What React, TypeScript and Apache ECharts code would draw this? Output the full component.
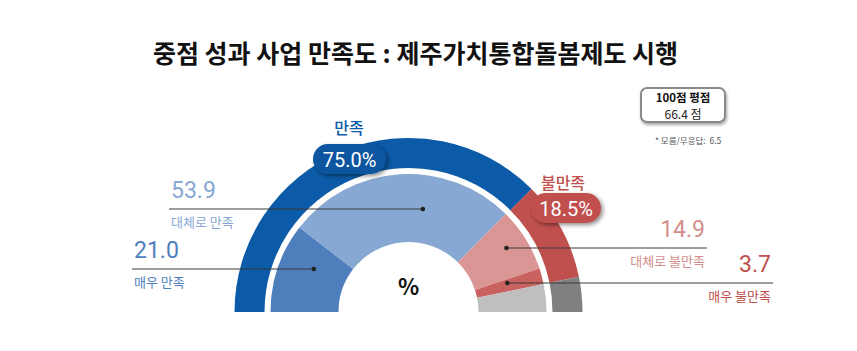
import React, { useEffect, useRef } from "react";
import * as echarts from "echarts";

const titleText = "중점 성과 사업 만족도 : 제주가치통합돌봄제도 시행";

const innerNames = ["매우 만족", "대체로 만족", "대체로 불만족", "매우 불만족", "모름/무응답"];
const innerValues = [21.0, 53.9, 14.9, 3.7, 6.5];
const innerColors = ["#4e7fbc", "#87a8d3", "#da9694", "#c9625f", "#bfbfbf"];
const innerTextColors = ["#4e7fbc", "#87a8d3", "#d38e8c", "#c0504d", "#999999"];

const outerNames = ["만족", "불만족", "모름/무응답"];
const outerValues = [75.0, 18.5, 6.5];
const outerColors = ["#0b5ba8", "#c0504d", "#808080"];

const scoreTitle = "100점 평점";
const scoreText = "66.4 점";
const noteText = "* 모름/무응답:  6.5";
const centerText = "%";

const CX = 408.5;
const CY = 312;

// label layout for the four inner-ring leaders
const leaderLayout = [
  { idx: 0, align: "left", endX: 132, lineY: 269, r: 104, dir: -1, textX: 134 },
  { idx: 1, align: "left", endX: 169, lineY: 209, r: 104, dir: 1, textX: 171 },
  { idx: 2, align: "right", endX: 707, lineY: 248, r: 117, dir: 1, textX: 705 },
  { idx: 3, align: "right", endX: 773, lineY: 283, r: 103, dir: 1, textX: 771 },
];

const KR = '"Noto Sans CJK KR", "Noto Sans", sans-serif';
const NUM = 'Roboto, "Noto Sans", sans-serif';

export default function App() {
  const ref = useRef<HTMLDivElement>(null);

  useEffect(() => {
    if (!ref.current) return;
    const chart = echarts.init(ref.current, null, { renderer: "svg" });

    const innerTotal = innerValues.reduce((a, b) => a + b, 0);
    const outerTotal = outerValues.reduce((a, b) => a + b, 0);

    const innerData: any[] = innerValues.map((v, i) => ({
      name: innerNames[i],
      value: v,
      itemStyle: { color: innerColors[i] },
    }));
    innerData.push({ name: "", value: innerTotal, itemStyle: { color: "rgba(0,0,0,0)" } });

    const outerData: any[] = outerValues.map((v, i) => ({
      name: outerNames[i],
      value: v,
      itemStyle: { color: outerColors[i] },
    }));
    outerData.push({ name: "", value: outerTotal, itemStyle: { color: "rgba(0,0,0,0)" } });

    const graphics: any[] = [];

    graphics.push({
      type: "text",
      x: 415.5,
      y: 52,
      z: 100,
      style: {
        text: titleText,
        fill: "#111",
        font: `bold 25px ${KR}`,
        textAlign: "center",
        textVerticalAlign: "middle",
      },
    });

    // leaders
    leaderLayout.forEach((L) => {
      const dy = CY - L.lineY;
      const dx = Math.sqrt(Math.max(0, L.r * L.r - dy * dy));
      const dotX = CX + L.dir * dx;
      const color = innerTextColors[L.idx];
      graphics.push({
        type: "line",
        z: 100,
        shape: { x1: L.endX, y1: L.lineY, x2: dotX, y2: L.lineY },
        style: { stroke: "#3a3a3a", lineWidth: 1 },
      });
      graphics.push({
        type: "circle",
        z: 101,
        shape: { cx: dotX, cy: L.lineY, r: 2.3 },
        style: { fill: "#222" },
      });
      graphics.push({
        type: "text",
        z: 100,
        x: L.textX,
        y: L.lineY - 19,
        style: {
          text: innerValues[L.idx].toFixed(1),
          fill: color,
          font: `400 23px ${NUM}`,
          textAlign: L.align,
          textVerticalAlign: "middle",
        },
      });
      graphics.push({
        type: "text",
        z: 100,
        x: L.textX,
        y: L.lineY + 12,
        style: {
          text: innerNames[L.idx],
          fill: color,
          font: `13px ${KR}`,
          textAlign: L.align,
          textVerticalAlign: "middle",
        },
      });
    });

    // badges
    const badges = [
      { i: 0, x: 313, y: 144, w: 73, h: 30, headY: 127, headX: 349 },
      { i: 1, x: 531, y: 193, w: 70, h: 30, headY: 182, headX: 563 },
    ];
    badges.forEach((b) => {
      graphics.push({
        type: "text",
        z: 100,
        x: b.headX,
        y: b.headY,
        style: {
          text: outerNames[b.i],
          fill: outerColors[b.i],
          font: `500 16px ${KR}`,
          textAlign: "center",
          textVerticalAlign: "middle",
        },
      });
      graphics.push({
        type: "rect",
        z: 100,
        shape: { x: b.x, y: b.y, width: b.w, height: b.h, r: 15 },
        style: {
          fill: b.i === 0 ? "#0a569f" : "#c0504d",
          shadowBlur: 4,
          shadowOffsetX: 2,
          shadowOffsetY: 2,
          shadowColor: "rgba(0,0,0,0.45)",
        },
      });
      graphics.push({
        type: "text",
        z: 101,
        x: b.x + b.w / 2,
        y: b.y + b.h / 2 + 1,
        style: {
          text: outerValues[b.i].toFixed(1) + "%",
          fill: "#ffffff",
          font: `400 20px ${NUM}`,
          textAlign: "center",
          textVerticalAlign: "middle",
        },
      });
    });

    // score box
    graphics.push({
      type: "rect",
      z: 100,
      shape: { x: 641, y: 88, width: 84, height: 34, r: 6 },
      style: {
        fill: "#fff",
        stroke: "#8a8a8a",
        lineWidth: 2,
        shadowBlur: 3,
        shadowOffsetX: 1,
        shadowOffsetY: 2,
        shadowColor: "rgba(0,0,0,0.35)",
      },
    });
    graphics.push({
      type: "text",
      z: 101,
      x: 683,
      y: 97,
      style: {
        text: scoreTitle,
        fill: "#111",
        font: `bold 11.5px ${KR}`,
        textAlign: "center",
        textVerticalAlign: "middle",
      },
    });
    graphics.push({
      type: "text",
      z: 101,
      x: 683,
      y: 113,
      style: {
        text: scoreText,
        fill: "#222",
        font: `12px ${KR}`,
        textAlign: "center",
        textVerticalAlign: "middle",
      },
    });
    graphics.push({
      type: "text",
      z: 101,
      x: 655,
      y: 140,
      style: {
        text: noteText,
        fill: "#555",
        font: `8.5px ${KR}`,
        textAlign: "left",
        textVerticalAlign: "middle",
      },
    });
    graphics.push({
      type: "text",
      z: 101,
      x: CX,
      y: 285,
      style: {
        text: centerText,
        fill: "#111",
        font: `bold 22px ${KR}`,
        textAlign: "center",
        textVerticalAlign: "middle",
      },
    });

    chart.setOption({
      animation: false,
      backgroundColor: "#ffffff",
      series: [
        {
          type: "pie",
          silent: true,
          center: [CX, CY],
          radius: [70, 138],
          startAngle: 180,
          clockwise: true,
          label: { show: false },
          labelLine: { show: false },
          emphasis: { disabled: true },
          data: innerData,
        },
        {
          type: "pie",
          silent: true,
          center: [CX, CY],
          radius: [144, 174],
          startAngle: 180,
          clockwise: true,
          label: { show: false },
          labelLine: { show: false },
          emphasis: { disabled: true },
          data: outerData,
        },
      ],
      graphic: graphics,
    });

    return () => chart.dispose();
  }, []);

  return (
    <div
      ref={ref}
      style={{ position: "absolute", left: 0, top: 0, width: 857, height: 351 }}
    />
  );
}
